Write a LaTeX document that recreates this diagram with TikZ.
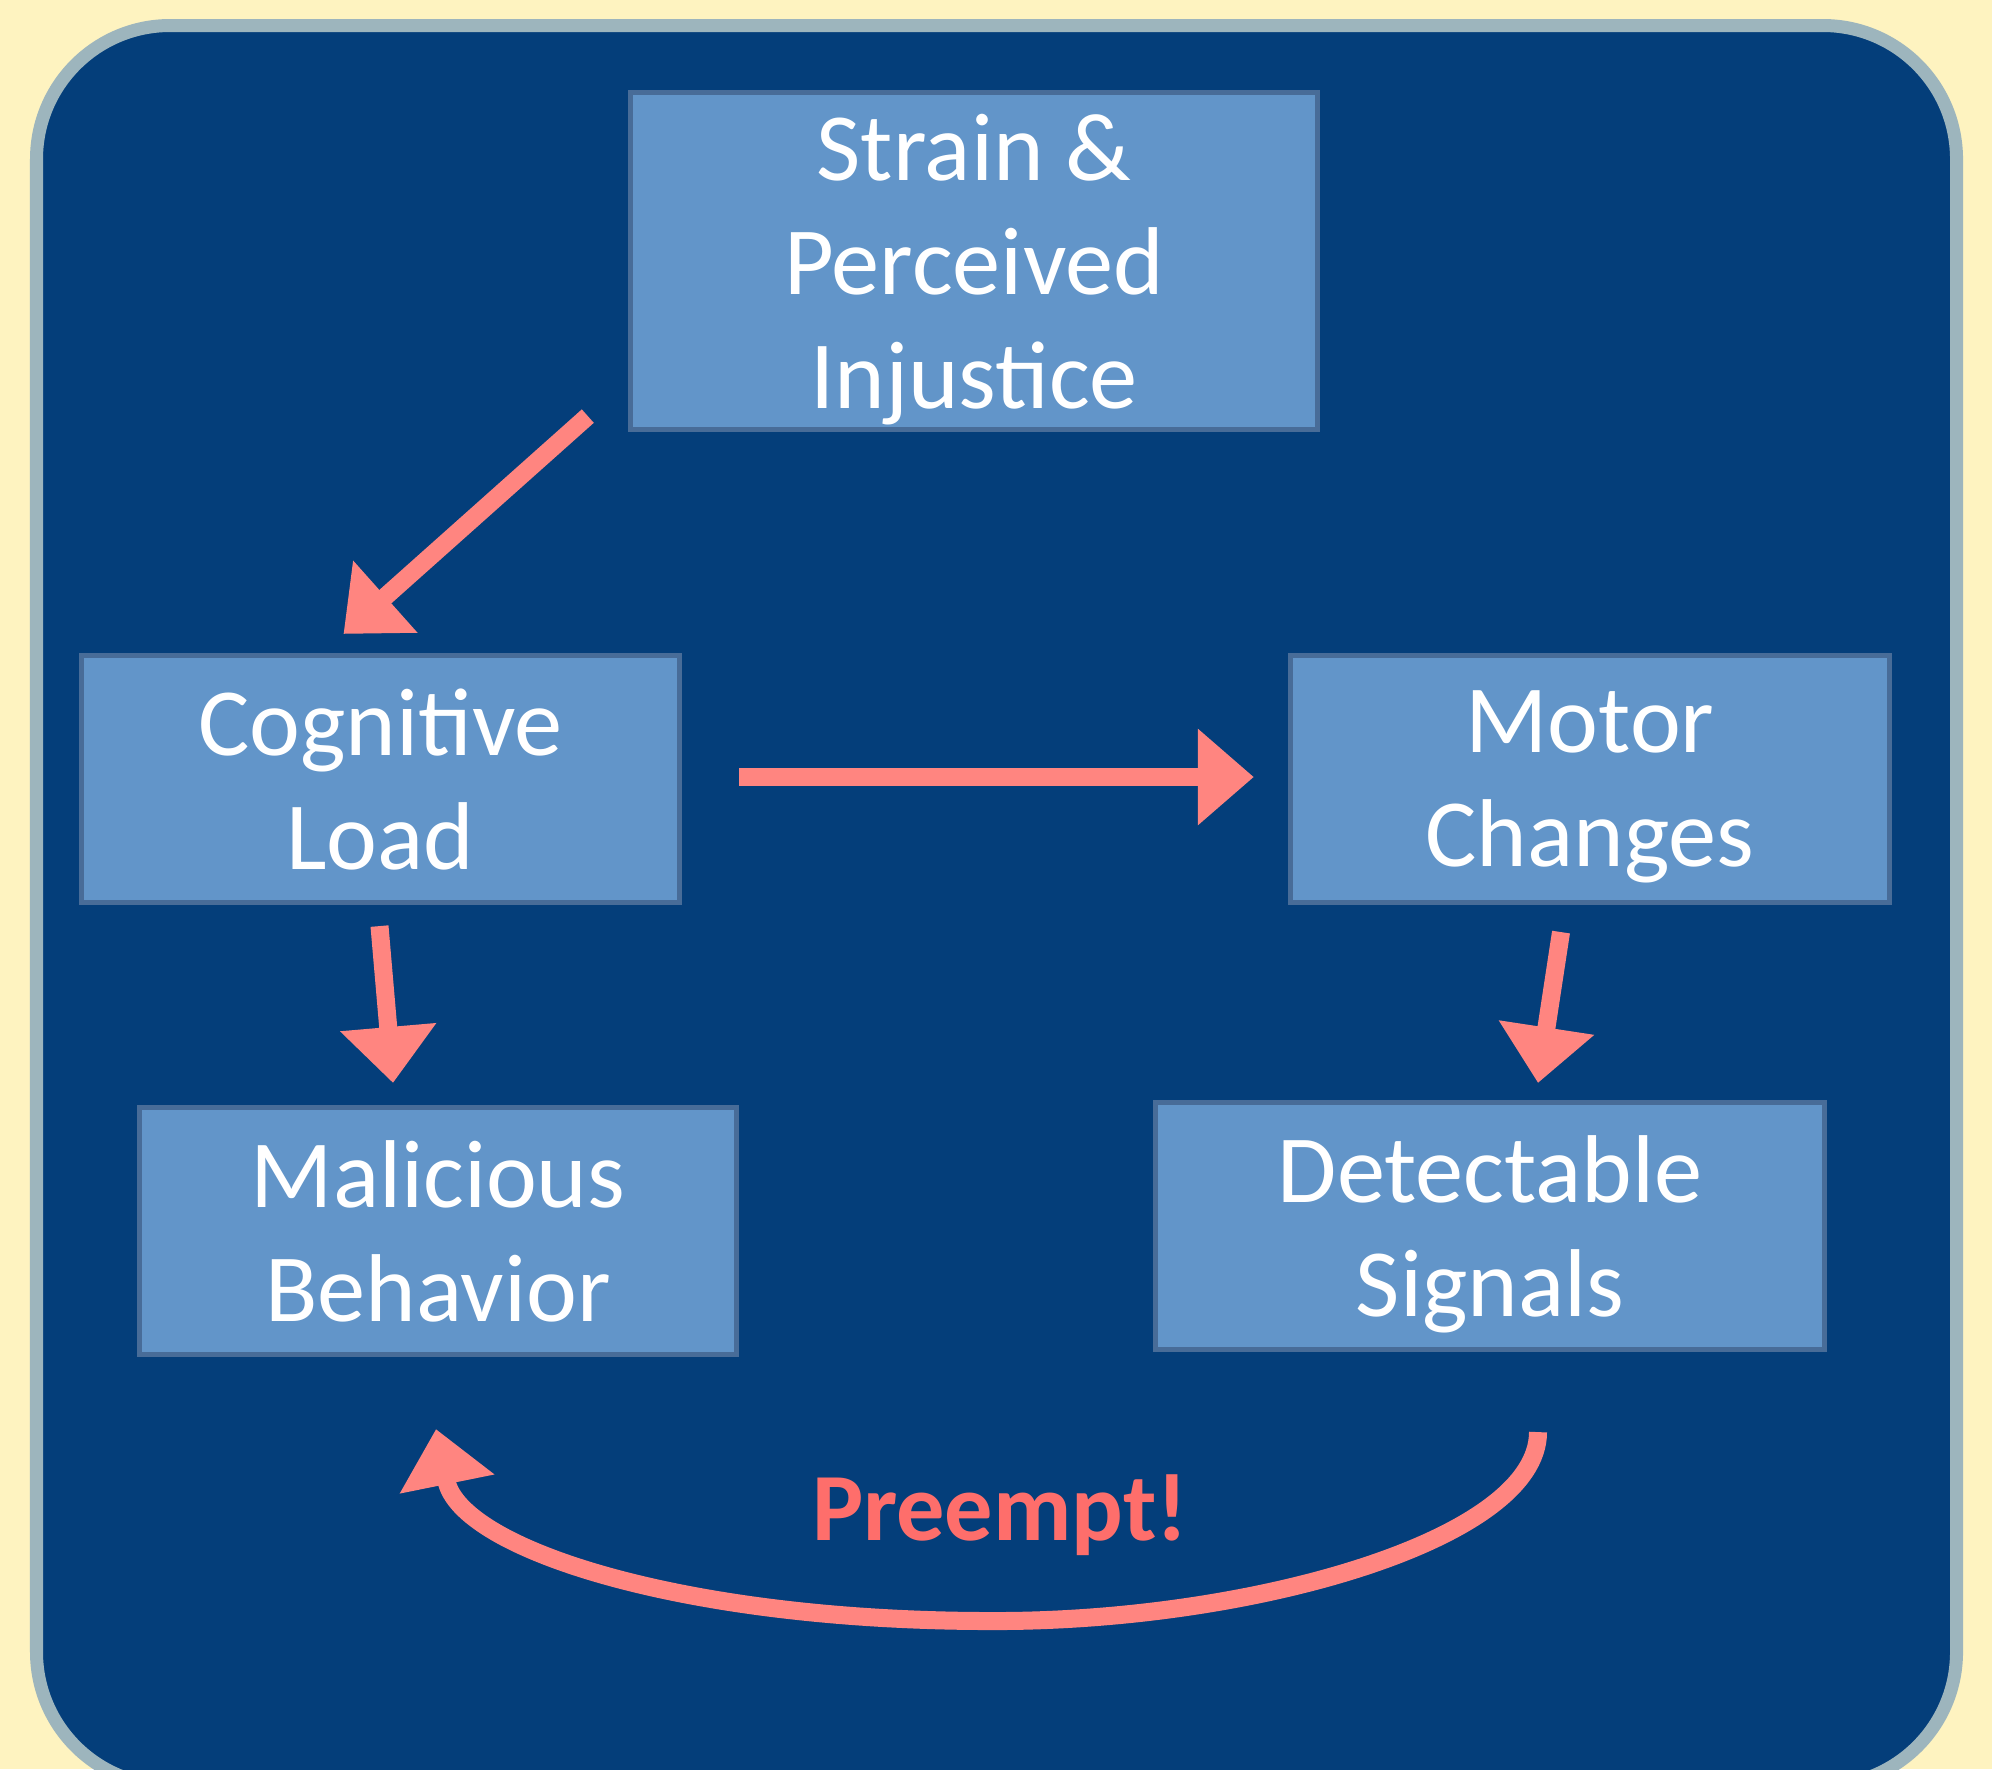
\documentclass[tikz,border=0pt]{standalone}
\usepackage{fontspec}
\setmainfont{Carlito}
\usetikzlibrary{arrows.meta, calc, positioning}

\definecolor{bgcream}{HTML}{FEF3C0}
\definecolor{framegray}{HTML}{9DB5BD}
\definecolor{panelblue}{HTML}{043E7A}
\definecolor{boxblue}{HTML}{6295C9}
\definecolor{boxedge}{HTML}{486C98}
\definecolor{arrowpink}{HTML}{FF8580}
\definecolor{preemptred}{HTML}{FE6E6B}

\tikzset{
    stage/.style={rectangle, draw=boxedge, line width=0.05cm, fill=boxblue, text=white,
        font=\fontsize{27.4pt}{32.4pt}\selectfont, align=center, inner sep=0pt,
        minimum height=2.47cm, text depth=-0.18cm},
    flow/.style={draw=arrowpink, line width=0.18cm, -{Triangle[length=0.56cm, width=0.93cm]}}
}

\begin{document}
\begin{tikzpicture}[x=0.01cm, y=-0.01cm]
    \useasboundingbox (0,0) rectangle (1992,1769);
    \fill[bgcream] (0,0) rectangle (1992,1769);
    \draw[draw=framegray, fill=panelblue, line width=0.13cm, rounded corners=1.335cm]
        (36.5,25.5) rectangle (1956.5,1785.5);

    % the five stages
    \node[stage, minimum width=6.87cm, minimum height=3.37cm] (strain) at (974,261) {Strain \&\\Perceived\\Injustice};
    \node[stage, minimum width=5.98cm] (cog) at (380.5,779) {Cognitive\\Load};
    \node[stage, minimum width=5.99cm] (motor) at (1590,779) {Motor\\Changes};
    \node[stage, minimum width=5.97cm] (mal) at (438,1231) {Malicious\\Behavior};
    \node[stage, minimum width=6.69cm] (det) at (1490,1226) {Detectable\\Signals};

    \node[font=\bfseries\fontsize{27.4pt}{32.4pt}\selectfont, text=preemptred, anchor=base, inner sep=0pt]
        (preempt) at (1000,1540) {Preempt!};

    % arrow ends, kept clear of the boxes
    \coordinate (a1) at ($(strain.south west)+(-40,-16)$);
    \coordinate (b1) at ($(cog.north)+(-37,-19)$);
    \coordinate (a2) at ($(cog.east)+(57,-2)$);
    \coordinate (b2) at ($(motor.west)+(-34,-2)$);
    \coordinate (a3) at ($(cog.south)+(-1,21)$);
    \coordinate (b3) at ($(mal.north)+(-45,-22)$);
    \coordinate (a4) at ($(motor.south)+(-29,27)$);
    \coordinate (b4) at ($(det.north)+(48,-17)$);
    \coordinate (a5) at ($(det.south)+(48,80)$);
    \coordinate (b5) at ($(mal.south)+(-2,72)$);

    \draw[flow] (a1) -- (b1);
    \draw[flow] (a2) -- (b2);
    \draw[flow] (a3) -- (b3);
    \draw[flow] (a4) -- (b4);
    \draw[flow] (a5) .. controls +(0,108) and (1250,1622) .. (991,1621)
        .. controls (680,1621) and (460,1548) .. (b5);
\end{tikzpicture}
\end{document}
